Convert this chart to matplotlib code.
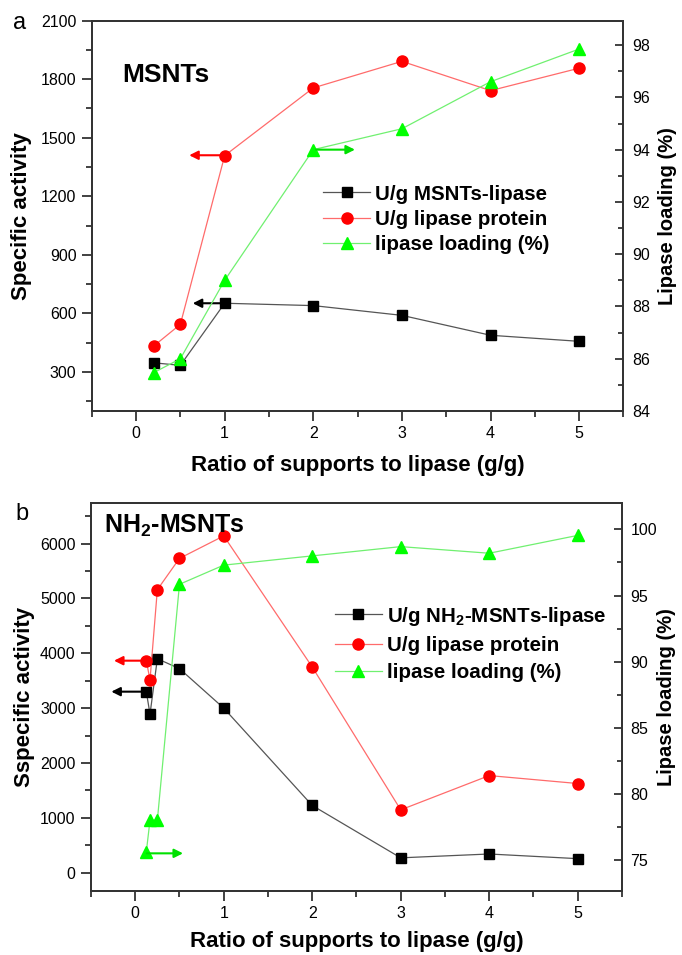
import matplotlib
matplotlib.use('Agg')
import matplotlib.pyplot as plt
from matplotlib.ticker import MultipleLocator

plt.rcParams['font.family'] = ['Liberation Sans', 'DejaVu Sans']
plt.rcParams['mathtext.fontset'] = 'custom'
plt.rcParams['mathtext.rm'] = 'Liberation Sans'
plt.rcParams['mathtext.bf'] = 'Liberation Sans:bold'

# panel a: MSNTs
ratioA = [0.2, 0.5, 1, 2, 3, 4, 5]
supportActA = [347, 334, 652, 640, 590, 488, 457]
proteinActA = [433, 544, 1408, 1755, 1891, 1741, 1856]
loadingA = [85.47, 86.0, 89.0, 94.0, 94.8, 96.6, 97.85]

# panel b: NH2-MSNTs
ratioB = [0.125, 0.167, 0.25, 0.5, 1, 2, 3, 4, 5]
supportActB = [3300, 2890, 3900, 3720, 3000, 1225, 270, 340, 255]
proteinActB = [3865, 3515, 5160, 5730, 6140, 3750, 1145, 1770, 1625]
loadingB = [75.6, 78.0, 78.0, 95.85, 97.3, 98.0, 98.7, 98.2, 99.55]

xTicks = [0, 1, 2, 3, 4, 5]
xLabel = 'Ratio of supports to lipase (g/g)'

# arrows: (axis side, x_start, x_end, y, colour)
arrowsA = [('left', 0.97, 0.60, 1410, 'red'), ('left', 0.99, 0.64, 652, 'black'),
           ('right', 2.03, 2.47, 94.0, '#00e000')]
arrowsB = [('left', 0.11, -0.24, 3865, 'red'), ('left', 0.11, -0.27, 3300, 'black'),
           ('right', 0.13, 0.54, 75.5, '#00e000')]

spineColor = '#333333'


def styleAxes(ax, ax2, xpad):
    for a in (ax, ax2):
        for s in a.spines.values():
            s.set_linewidth(1.3)
            s.set_color(spineColor)
    ax.set_xlim(-0.5, 5.5)
    ax.set_xticks(xTicks)
    ax.xaxis.set_minor_locator(MultipleLocator(0.5))
    ax.tick_params(axis='both', which='major', direction='out', length=7, width=1.3,
                   labelsize=11.5, pad=4, color=spineColor, top=False, right=False)
    ax.tick_params(axis='both', which='minor', direction='out', length=4, width=1.3,
                   color=spineColor, top=False, right=False)
    ax2.tick_params(axis='y', which='major', direction='in', length=6, width=1.3,
                    labelsize=11.5, pad=6, color=spineColor)
    ax2.tick_params(axis='y', which='minor', direction='in', length=3.5, width=1.3,
                    color=spineColor)
    ax.set_xlabel(xLabel, fontsize=16, fontweight='bold', labelpad=xpad)


def drawPanel(ax, x, s1, s2, load, labels):
    ax2 = ax.twinx()
    l1, = ax.plot(x, s1, color='#555555', lw=0.9, marker='s', ms=7,
                  mfc='black', mec='black', label=labels[0], zorder=3)
    l2, = ax.plot(x, s2, color='#ff6b6b', lw=0.9, marker='o', ms=8,
                  mfc='#ff0000', mec='#ff0000', label=labels[1], zorder=3)
    l3, = ax2.plot(x, load, color='#70f070', lw=0.9, marker='^', ms=8.5,
                   mfc='#00ff00', mec='#00ff00', label=labels[2], zorder=3)
    return ax2, [l1, l2, l3]


def drawArrows(ax, ax2, arrows):
    for side, x0, x1, y, c in arrows:
        target = ax if side == 'left' else ax2
        target.annotate('', xy=(x1, y), xytext=(x0, y),
                        arrowprops=dict(arrowstyle='-|>', color=c, lw=1.5,
                                        mutation_scale=13, shrinkA=0, shrinkB=0))


fig = plt.figure(figsize=(6.82, 9.55), dpi=100)

# ---- panel a
axA = fig.add_axes([0.1345, 0.5696, 0.7797, 0.4089])
axA2, linesA = drawPanel(axA, ratioA, supportActA, proteinActA, loadingA,
                         ['U/g MSNTs-lipase', 'U/g lipase protein', 'lipase loading (%)'])
styleAxes(axA, axA2, 10)
axA.set_ylim(100, 2100)
axA.set_yticks([300, 600, 900, 1200, 1500, 1800, 2100])
axA.yaxis.set_minor_locator(MultipleLocator(150))
axA2.set_ylim(84, 98.94)
axA2.set_yticks([84, 86, 88, 90, 92, 94, 96, 98])
axA2.yaxis.set_minor_locator(MultipleLocator(1))
axA.set_ylabel('Specific activity', fontsize=16, fontweight='bold', labelpad=6)
axA2.set_ylabel('Lipase loading (%)', fontsize=14.5, fontweight='bold')
axA2.yaxis.set_label_coords(1.064, 0.5)
drawArrows(axA, axA2, arrowsA)
axA.text(0.057, 0.86, 'MSNTs', transform=axA.transAxes, fontsize=19,
         fontweight='bold', va='center', ha='left')
axA.legend(handles=linesA, loc='upper left', bbox_to_anchor=(0.435, 0.58),
           frameon=False, prop={'weight': 'bold', 'size': 14.8},
           handlelength=2.3, handletextpad=0.25, labelspacing=0.3,
           borderpad=0, borderaxespad=0)
fig.text(0.028, 0.976, 'a', fontsize=17, va='center', ha='center')

# ---- panel b
axB = fig.add_axes([0.1334, 0.067, 0.7786, 0.4063])
axB2, linesB = drawPanel(axB, ratioB, supportActB, proteinActB, loadingB,
                         [r'U/g NH$_\mathbf{2}$-MSNTs-lipase', 'U/g lipase protein',
                          'lipase loading (%)'])
styleAxes(axB, axB2, 7)
axB.set_ylim(-335, 6740)
axB.set_yticks([0, 1000, 2000, 3000, 4000, 5000, 6000])
axB.yaxis.set_minor_locator(MultipleLocator(500))
axB2.set_ylim(72.65, 102.0)
axB2.set_yticks([75, 80, 85, 90, 95, 100])
axB2.yaxis.set_minor_locator(MultipleLocator(2.5))
axB.set_ylabel('Sspecific activity', fontsize=16, fontweight='bold', labelpad=4)
axB2.set_ylabel('Lipase loading (%)', fontsize=14.5, fontweight='bold')
axB2.yaxis.set_label_coords(1.066, 0.5)
drawArrows(axB, axB2, arrowsB)
axB.text(0.024, 0.94, r'NH$_\mathbf{2}$-MSNTs', transform=axB.transAxes, fontsize=18,
         fontweight='bold', va='center', ha='left')
axB.legend(handles=linesB, loc='upper left', bbox_to_anchor=(0.459, 0.738),
           frameon=False, prop={'weight': 'bold', 'size': 14.8},
           handlelength=2.3, handletextpad=0.25, labelspacing=0.4,
           borderpad=0, borderaxespad=0)
fig.text(0.032, 0.462, 'b', fontsize=17, va='center', ha='center')

fig.savefig('out.png', dpi=100)
